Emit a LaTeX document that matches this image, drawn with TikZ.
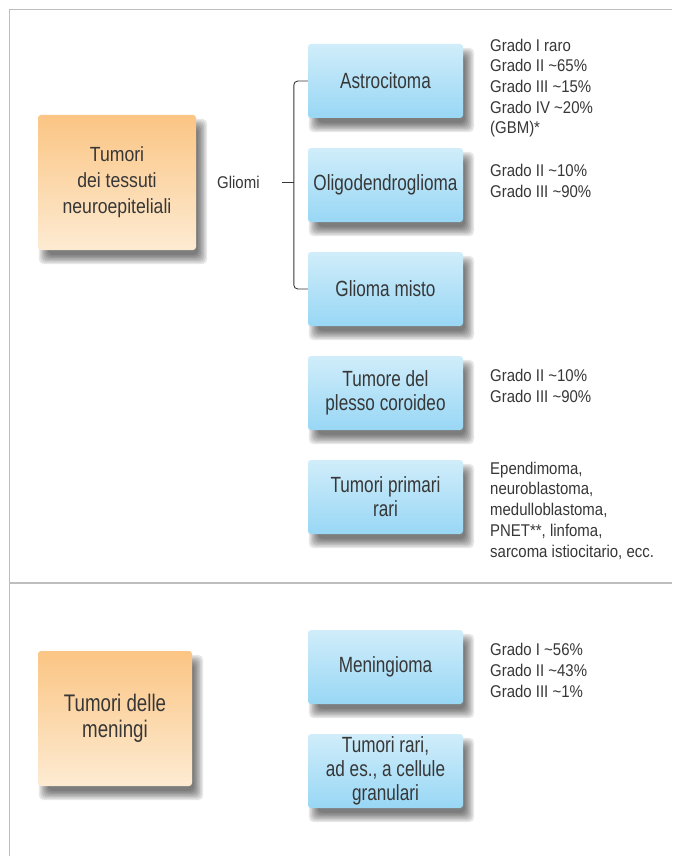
\documentclass[tikz,border=0pt]{standalone}
\usepackage{fontspec}
\setmainfont{Liberation Sans}[FakeStretch=0.88]
\newfontfamily\boxfont{Liberation Sans}[FakeStretch=0.78]
\newfontfamily\orfont{Liberation Sans}[FakeStretch=0.86]
\usetikzlibrary{backgrounds}
\definecolor{txt}{RGB}{55,55,55}
\definecolor{bluetop}{RGB}{208,237,250}
\definecolor{bluebot}{RGB}{152,215,245}
\definecolor{orangetop}{RGB}{251,197,132}
\definecolor{orangebot}{RGB}{253,235,210}
\definecolor{framegray}{RGB}{190,190,190}
\begin{document}
\begin{tikzpicture}[x=1pt,y=-1pt,
  frame/.style={draw=framegray, line width=1.1pt},
  shadowlayer/.style={fill=black, opacity=0.095, rounded corners=5pt},
  bluebox/.style={rounded corners=3pt, top color=bluetop, bottom color=bluebot,
    minimum width=155pt, minimum height=74pt, inner sep=2pt, align=center, text=txt,
    font=\boxfont\fontsize{22}{24}\selectfont},
  orangebox/.style={rounded corners=3pt, top color=orangetop, bottom color=orangebot,
    minimum height=135pt, inner sep=2pt, align=center, text=txt},
  note/.style={anchor=base west, inner sep=0pt, align=left, text=txt,
    font=\fontsize{17}{20.7}\selectfont},
  brace/.style={draw=txt, line width=0.9pt, rounded corners=4pt}
]
\useasboundingbox (0,0) rectangle (672,856);

% frame
\coordinate (ftr) at (672,9.5);
\coordinate (ftl) at (9.5,9.5);
\coordinate (fbl) at (9.5,856);
\coordinate (sepl) at (9.5,583);
\coordinate (sepr) at (672,583);
\draw[frame] (ftr) -- (ftl) -- (fbl);
\draw[frame] (sepl) -- (sepr);

% left boxes
\node[orangebox, minimum width=158pt, font=\orfont\fontsize{20.5}{26}\selectfont] (neuro) at (117,182.5)
  {Tumori\\dei tessuti\\neuroepiteliali};
\node[orangebox, minimum width=154pt, font=\boxfont\fontsize{24}{26}\selectfont] (men) at (115,718.5)
  {Tumori delle\\meningi};

% blue boxes
\node[bluebox] (astro) at (385.5,81) {Astrocitoma};
\node[bluebox] (oligo) at (385.5,185) {Oligodendroglioma};
\node[bluebox] (misto) at (385.5,289) {Glioma misto};
\node[bluebox] (plesso) at (385.5,393) {Tumore del\\plesso coroideo};
\node[bluebox] (rari) at (385.5,497) {Tumori primari\\rari};
\node[bluebox] (mening) at (385.5,667) {Meningioma};
\node[bluebox] (granul) at (385.5,771) {Tumori rari,\\ad es., a cellule\\granulari};

% soft shadows behind the boxes
\begin{scope}[on background layer]
  \fill[white] (0,0) rectangle (672,856);
  \foreach \n in {neuro,men,astro,oligo,misto,plesso,rari,mening,granul}{
    \foreach \e in {5,3.5,2,0.5,-1,-2.5,-4}{
      \fill[shadowlayer] ([shift={(6-\e,9-\e)}]\n.north west) rectangle ([shift={(6+\e,9+\e)}]\n.south east);
    }
  }
\end{scope}

% gliomi label and brace
\node[note] (gliomi) at (217,188) {Gliomi};
\coordinate (brk) at (294,182.5);
\coordinate (dash0) at (282,182.5);
\draw[brace] (astro.west) -- ++(-14,0) |- (misto.west);
\draw[draw=txt, line width=0.9pt] (dash0) -- (brk);

% notes (anchored at the baseline of their last line)
\node[note] (nastro) at (490,134) {Grado I raro\\Grado II \textasciitilde65\%\\Grado III \textasciitilde15\%\\Grado IV \textasciitilde20\%\\(GBM)*};
\node[note] (noligo) at (490,197.5) {Grado II \textasciitilde10\%\\Grado III \textasciitilde90\%};
\node[note] (nplesso) at (490,402) {Grado II \textasciitilde10\%\\Grado III \textasciitilde90\%};
\node[note] (nrari) at (490,557) {Ependimoma,\\neuroblastoma,\\medulloblastoma,\\PNET**, linfoma,\\sarcoma istiocitario, ecc.};
\node[note] (nmen) at (490,697) {Grado I \textasciitilde56\%\\Grado II \textasciitilde43\%\\Grado III \textasciitilde1\%};
\end{tikzpicture}
\end{document}
